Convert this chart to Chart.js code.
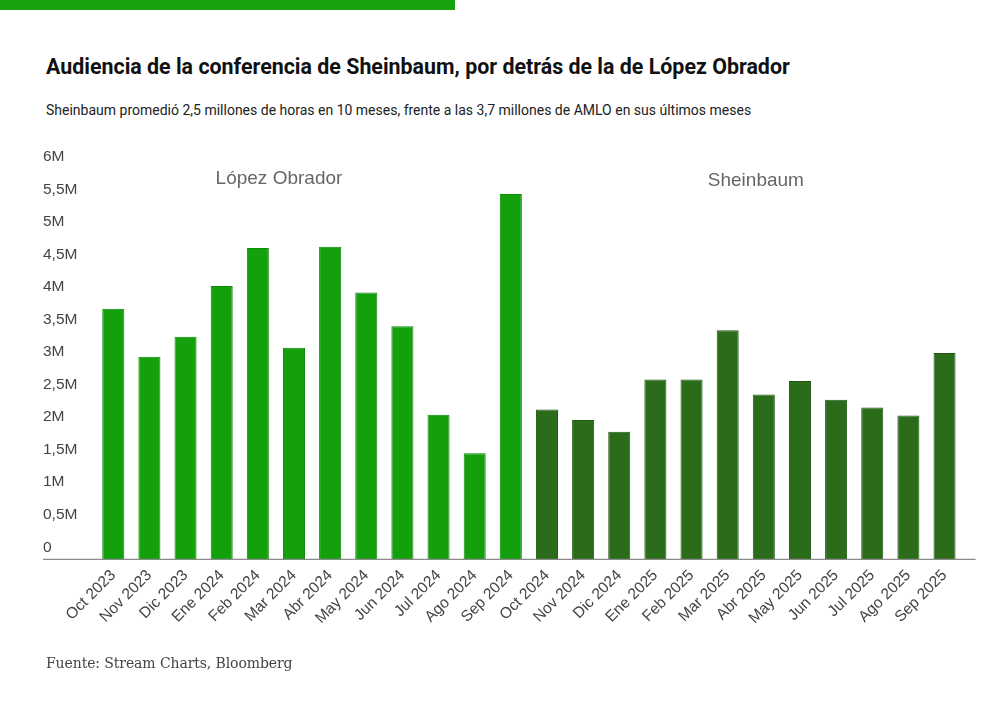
<!DOCTYPE html>
<html lang="es">
<head>
<meta charset="utf-8">
<script src="https://cdn.jsdelivr.net/npm/chart.js@4.4.1/dist/chart.umd.min.js"></script>
<style>
    html, body { margin: 0; padding: 0; background: #fff; }
    #wrap { position: relative; width: 1000px; height: 705px; overflow: hidden; }
    #topbar { position: absolute; left: 0; top: 0; width: 455px; height: 10px; background: #16a30c; }
    #title { position: absolute; left: 46px; top: 55px; font: 700 21.4px/24px Roboto, sans-serif; color: #111; white-space: nowrap; }
    #subtitle { position: absolute; left: 46px; top: 102px; font: 400 14px/17px Roboto, sans-serif; color: #222; white-space: nowrap; }
    #source { position: absolute; left: 46px; top: 654px; font: 400 14px/18px "DejaVu Serif", serif; color: #444; white-space: nowrap; letter-spacing: -0.1px; }
    #chart { position: absolute; left: 0; top: 0; }
</style>
</head>
<body>
<div id="wrap">
    <div id="topbar"></div>
    <div id="title">Audiencia de la conferencia de Sheinbaum, por detrás de la de López Obrador</div>
    <div id="subtitle">Sheinbaum promedió 2,5 millones de horas en 10 meses, frente a las 3,7 millones de AMLO en sus últimos meses</div>
    <canvas id="chart" width="1000" height="705"></canvas>
    <div id="source">Fuente: Stream Charts, Bloomberg</div>
</div>
<script>
// Meses (eje x)
const meses = [
    "Oct 2023", "Nov 2023", "Dic 2023", "Ene 2024", "Feb 2024", "Mar 2024",
    "Abr 2024", "May 2024", "Jun 2024", "Jul 2024", "Ago 2024", "Sep 2024",
    "Oct 2024", "Nov 2024", "Dic 2024", "Ene 2025", "Feb 2025", "Mar 2025",
    "Abr 2025", "May 2025", "Jun 2025", "Jul 2025", "Ago 2025", "Sep 2025"
];

// Horas de audiencia, en millones
const lopezObrador = [3.85, 3.11, 3.42, 4.20, 4.78, 3.25, 4.80, 4.10, 3.58, 2.22, 1.63, 5.61];
const sheinbaum = [2.30, 2.14, 1.96, 2.76, 2.76, 3.52, 2.53, 2.74, 2.45, 2.33, 2.21, 3.17];

// Marcas del eje y (millones)
const yTicks = [0, 0.5, 1, 1.5, 2, 2.5, 3, 3.5, 4, 4.5, 5, 5.5, 6];

const emptyYear = lopezObrador.map(() => null);

// Etiquetas de cada periodo sobre las barras
const seriesLabels = {
    id: "seriesLabels",
    afterDatasetsDraw(chart) {
        const ctx = chart.ctx;
        const x = chart.scales.x;
        ctx.save();
        ctx.fillStyle = "#666";
        ctx.font = "19px 'Liberation Sans', Arial, sans-serif";
        ctx.textAlign = "center";
        ctx.textBaseline = "middle";
        ctx.fillText("López Obrador", x.getPixelForValue(4.585), 179);
        ctx.fillText("Sheinbaum", x.getPixelForValue(17.78), 181);
        ctx.restore();
    }
};

// Línea base que llega por debajo de las etiquetas del eje y
const baseLine = {
    id: "baseLine",
    afterDatasetsDraw(chart) {
        const ctx = chart.ctx;
        const y = chart.scales.y.getPixelForValue(0);
        ctx.save();
        ctx.strokeStyle = "#8a8a8a";
        ctx.lineWidth = 1.2;
        ctx.beginPath();
        ctx.moveTo(chart.scales.y.left, y);
        ctx.lineTo(chart.chartArea.right + 13, y);
        ctx.stroke();
        ctx.restore();
    }
};

new Chart(document.getElementById("chart").getContext("2d"), {
    type: "bar",
    data: {
        labels: meses,
        datasets: [{
            label: "López Obrador",
            data: lopezObrador.concat(emptyYear),
            backgroundColor: "#13a00c",
            borderColor: "#0e8a08",
            borderWidth: 1
        }, {
            label: "Sheinbaum",
            data: emptyYear.concat(sheinbaum),
            backgroundColor: "#2b6c1b",
            borderColor: "#225a14",
            borderWidth: 1
        }]
    },
    options: {
        responsive: false,
        animation: false,
        devicePixelRatio: 1,
        layout: {
            padding: { left: 43, right: 37.4, top: 168.7, bottom: 0 }
        },
        datasets: {
            bar: { grouped: false, categoryPercentage: 1, barPercentage: 0.61 }
        },
        plugins: {
            legend: { display: false },
            tooltip: { enabled: false }
        },
        scales: {
            x: {
                grid: { display: false, drawTicks: false },
                border: { display: false },
                ticks: {
                    autoSkip: false,
                    maxRotation: 45,
                    minRotation: 45,
                    padding: 7,
                    color: "#444",
                    font: { family: "'Liberation Sans', Arial, sans-serif", size: 15.5 }
                },
                afterFit(scale) { scale.height = 145.7; }
            },
            y: {
                min: 0,
                max: 6,
                grid: { display: false, drawTicks: false },
                border: { display: false },
                afterBuildTicks(scale) { scale.ticks = yTicks.map(v => ({ value: v })); },
                afterFit(scale) { scale.width = 52.2; },
                ticks: {
                    crossAlign: "far",
                    labelOffset: -12,
                    padding: 0,
                    color: "#444",
                    font: { family: "'Liberation Sans', Arial, sans-serif", size: 15.5 },
                    callback: v => v === 0 ? "0" : String(v).replace(".", ",") + "M"
                }
            }
        }
    },
    plugins: [seriesLabels, baseLine]
});
</script>
</body>
</html>
